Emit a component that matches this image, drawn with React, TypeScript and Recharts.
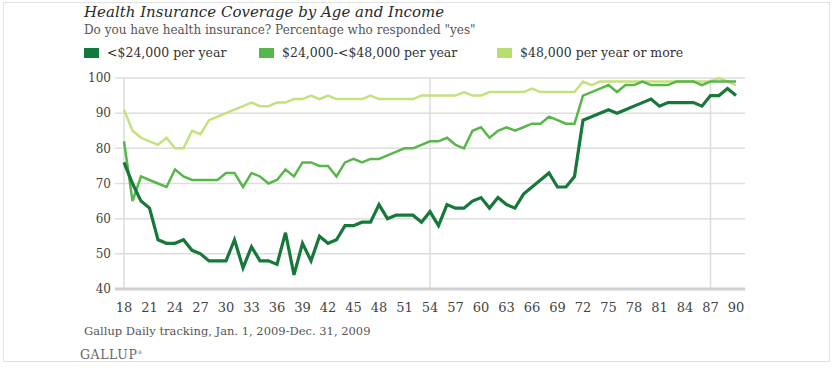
import { LineChart, Line, XAxis, YAxis, CartesianGrid, ReferenceLine } from "recharts"

// ages 18..90
const ages = [
  18, 19, 20, 21, 22, 23, 24, 25, 26, 27, 28, 29, 30, 31, 32, 33, 34, 35, 36, 37, 38, 39, 40, 41, 42, 43, 44, 45, 46, 47,
  48, 49, 50, 51, 52, 53, 54, 55, 56, 57, 58, 59, 60, 61, 62, 63, 64, 65, 66, 67, 68, 69, 70, 71, 72, 73, 74, 75, 76, 77,
  78, 79, 80, 81, 82, 83, 84, 85, 86, 87, 88, 89, 90,
]

const lowIncome = [
  76, 70, 65, 63, 54, 53, 53, 54, 51, 50, 48, 48, 48, 54, 46, 52, 48, 48, 47, 56, 44, 53, 48, 55, 53, 54, 58, 58, 59, 59,
  64, 60, 61, 61, 61, 59, 62, 58, 64, 63, 63, 65, 66, 63, 66, 64, 63, 67, 69, 71, 73, 69, 69, 72, 88, 89, 90, 91, 90, 91,
  92, 93, 94, 92, 93, 93, 93, 93, 92, 95, 95, 97, 95,
]

const midIncome = [
  82, 65, 72, 71, 70, 69, 74, 72, 71, 71, 71, 71, 73, 73, 69, 73, 72, 70, 71, 74, 72, 76, 76, 75, 75, 72, 76, 77, 76, 77,
  77, 78, 79, 80, 80, 81, 82, 82, 83, 81, 80, 85, 86, 83, 85, 86, 85, 86, 87, 87, 89, 88, 87, 87, 95, 96, 97, 98, 96, 98,
  98, 99, 98, 98, 98, 99, 99, 99, 98, 99, 99, 99, 99,
]

const highIncome = [
  91, 85, 83, 82, 81, 83, 80, 80, 85, 84, 88, 89, 90, 91, 92, 93, 92, 92, 93, 93, 94, 94, 95, 94, 95, 94, 94, 94, 94, 95,
  94, 94, 94, 94, 94, 95, 95, 95, 95, 95, 96, 95, 95, 96, 96, 96, 96, 96, 97, 96, 96, 96, 96, 96, 99, 98, 99, 99, 99, 99,
  99, 99, 99, 99, 99, 99, 99, 99, 99, 99, 100, 99, 98,
]

const xTicks = [18, 21, 24, 27, 30, 33, 36, 39, 42, 45, 48, 51, 54, 57, 60, 63, 66, 69, 72, 75, 78, 81, 84, 87, 90]
const yTicks = [40, 50, 60, 70, 80, 90, 100]
const markerAges = [18, 54, 87]

const seriesNames = ["<$24,000 per year", "$24,000-<$48,000 per year", "$48,000 per year or more"]
const lineColors = ["#17783a", "#58b64a", "#c3e27c"]
const legendColors = ["#0f7a3c", "#56b84c", "#b9de70"]

const data = ages.map((age, i) => ({
  age,
  low: lowIncome[i],
  mid: midIncome[i],
  high: highIncome[i],
}))

const serif = "'DejaVu Serif', 'Liberation Serif', serif"

export default function App() {
  const legendPos = [84, 259, 497]

  return (
    <div
      style={{
        position: "absolute",
        left: 0,
        top: 0,
        width: 838,
        height: 368,
        background: "#fff",
        fontFamily: serif,
      }}
    >
      <div
        style={{
          position: "absolute",
          left: 3,
          top: 2,
          width: 827,
          height: 360,
          border: "1px solid #e2e2e2",
          boxSizing: "border-box",
        }}
      />
      <div style={{ position: "absolute", left: 84, top: 3, fontSize: 15, fontStyle: "italic", color: "#2a2a2a" }}>
        Health Insurance Coverage by Age and Income
      </div>
      <div style={{ position: "absolute", left: 84, top: 23, fontSize: 12, color: "#555" }}>
        Do you have health insurance? Percentage who responded "yes"
      </div>
      {seriesNames.map((name, i) => (
        <div key={name} style={{ position: "absolute", left: legendPos[i], top: 45, display: "flex", alignItems: "center" }}>
          <span style={{ display: "inline-block", width: 15, height: 10, background: legendColors[i], marginRight: 8 }} />
          <span style={{ fontSize: 12.5, color: "#333" }}>{name}</span>
        </div>
      ))}

      <div style={{ position: "absolute", left: 0, top: 0 }}>
        <LineChart width={838} height={368} data={data} margin={{ top: 78, right: 93, bottom: 0, left: 85 }}>
          <CartesianGrid vertical={false} stroke="#dedede" strokeWidth={1.5} />
          <XAxis
            dataKey="age"
            type="number"
            domain={[16.94, 91.06]}
            ticks={xTicks}
            interval={0}
            height={79}
            tickLine={false}
            tickSize={0}
            tickMargin={14}
            axisLine={{ stroke: "#cfcfcf", strokeWidth: 3 }}
            tick={{ fill: "#444", fontSize: 13, fontFamily: serif }}
          />
          <YAxis
            type="number"
            domain={[40, 100]}
            ticks={yTicks}
            width={30}
            axisLine={false}
            tickLine={false}
            tickSize={0}
            tickMargin={4}
            tick={{ fill: "#444", fontSize: 12, fontFamily: serif }}
          />
          {markerAges.map((a) => (
            <ReferenceLine key={a} x={a} stroke="#dcdcdc" strokeWidth={1.5} />
          ))}
          <Line type="linear" dataKey="high" stroke={lineColors[2]} strokeWidth={2.5} dot={false} isAnimationActive={false} />
          <Line type="linear" dataKey="mid" stroke={lineColors[1]} strokeWidth={2.5} dot={false} isAnimationActive={false} />
          <Line type="linear" dataKey="low" stroke={lineColors[0]} strokeWidth={3.2} dot={false} isAnimationActive={false} />
        </LineChart>
      </div>

      <div style={{ position: "absolute", left: 84, top: 324, fontSize: 11.5, color: "#555" }}>
        Gallup Daily tracking, Jan. 1, 2009-Dec. 31, 2009
      </div>
      <div style={{ position: "absolute", left: 80, top: 347, fontSize: 12.5, color: "#666", letterSpacing: 0.6 }}>
        GALLUP<sup style={{ fontSize: 5 }}>®</sup>
      </div>
    </div>
  )
}
